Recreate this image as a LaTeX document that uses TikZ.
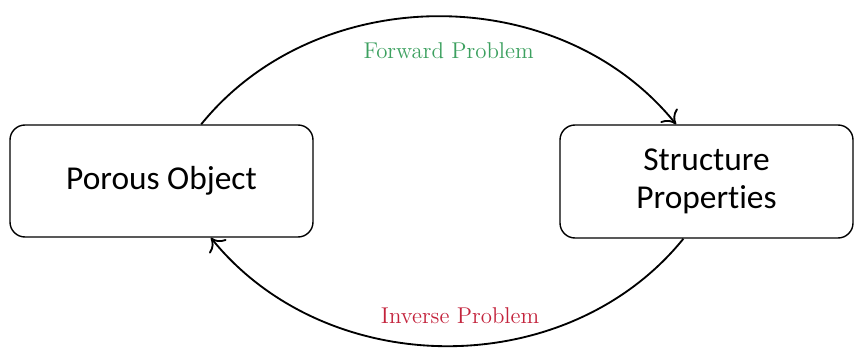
\documentclass[tikz,border=0pt]{standalone}
\usepackage{fontspec}
\usepackage{xcolor}
\usetikzlibrary{arrows.meta,positioning}
\newfontfamily\boxfont[Ligatures=NoCommon]{Carlito}
\definecolor{fwdgreen}{RGB}{60,160,95}
\definecolor{invred}{RGB}{195,35,60}

\begin{document}
\begin{tikzpicture}[>={To[length=2.4mm,width=4.4mm]},
  block/.style={draw, line width=0.8pt, rounded corners=3mm, align=center,
    font=\boxfont\fontsize{19}{22}\selectfont},
  flow/.style={->, line width=1.05pt},
  tag/.style={font=\fontsize{13}{15}\selectfont}]
  \useasboundingbox (0,0) rectangle (17.1,-7.02);
  \node[block, minimum width=6.06cm, minimum height=2.24cm] (po) at (3.23,-3.62) {Porous Object};
  \node[block, minimum width=5.86cm, minimum height=2.26cm] (sp) at (14.13,-3.63) {Structure\\Properties};
  \draw[flow] (po.55) to[out=51, in=129]
    node[tag, below=4mm, xshift=2mm, text=fwdgreen] (fw) {Forward Problem} (sp.118);
  \draw[flow] (sp.248) to[out=-129, in=-51]
    node[tag, above=3.2mm, xshift=2.6mm, text=invred] (iv) {Inverse Problem} (po.311);
\end{tikzpicture}
\end{document}
